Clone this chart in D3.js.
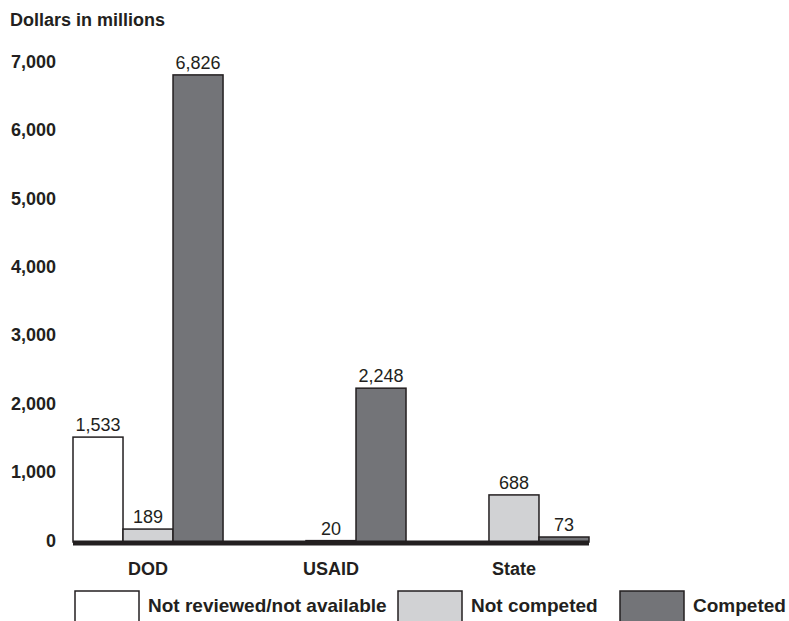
<!DOCTYPE html>
<html>
<head>
<meta charset="utf-8">
<script src="https://cdn.jsdelivr.net/npm/d3@7"></script>
<style>
  body { margin: 0; background: #fff; }
  svg { display: block; font-family: "Liberation Sans", Arial, sans-serif; }
</style>
</head>
<body>
<svg id="graph"></svg>
<script>
var width = 789, height = 621;

var agencies = ["DOD", "USAID", "State"];
var seriesNames = ["Not reviewed/not available", "Not competed", "Competed"];
var notReviewed = [1533, 0, 0];
var notCompeted = [189, 20, 688];
var competed = [6826, 2248, 73];
var yTicks = [0, 1000, 2000, 3000, 4000, 5000, 6000, 7000];

var color = ["#ffffff", "#d1d2d4", "#737478"];
var ink = "#231f20";

var svg = d3.select("#graph")
	.attr("width", width)
	.attr("height", height);

var x = d3.scaleBand()
	.domain(agencies)
	.range([73, 589])
	.paddingInner(0.18);

var xs = d3.scaleBand()
	.domain(d3.range(3))
	.range([0, x.bandwidth()]);

var y = d3.scaleLinear()
	.domain([0, 7000])
	.range([542, 63]);

// build rows for bars
var rows = [];
agencies.forEach(function (a, i) {
	[notReviewed[i], notCompeted[i], competed[i]].forEach(function (v, j) {
		rows.push({ agency: a, s: j, value: v });
	});
});

svg.append("text")
	.attr("x", 10)
	.attr("y", 26)
	.attr("font-size", "18px")
	.attr("font-weight", "bold")
	.attr("fill", ink)
	.text("Dollars in millions");

// y axis labels (no line)
svg.selectAll(".ytick")
	.data(yTicks)
	.enter()
	.append("text")
	.attr("class", "ytick")
	.attr("x", 56)
	.attr("y", d => y(d))
	.attr("dominant-baseline", "middle")
	.attr("text-anchor", "end")
	.attr("font-size", "18px")
	.attr("font-weight", "bold")
	.attr("fill", ink)
	.text(d => d3.format(",")(d));

svg.selectAll(".bar")
	.data(rows.filter(d => d.value > 0))
	.enter()
	.append("rect")
	.attr("class", "bar")
	.attr("x", d => x(d.agency) + xs(d.s))
	.attr("y", d => y(d.value))
	.attr("width", xs.bandwidth())
	.attr("height", d => y(0) - y(d.value))
	.attr("fill", d => color[d.s])
	.attr("stroke", ink)
	.attr("stroke-width", 1.5);

svg.selectAll(".val")
	.data(rows.filter(d => d.value > 0))
	.enter()
	.append("text")
	.attr("class", "val")
	.attr("x", d => x(d.agency) + xs(d.s) + xs.bandwidth() / 2)
	.attr("y", d => y(d.value) - 6)
	.attr("text-anchor", "middle")
	.attr("font-size", "18px")
	.attr("fill", ink)
	.text(d => d3.format(",")(d.value));

// thick baseline
svg.append("line")
	.attr("x1", x.range()[0])
	.attr("x2", x.range()[1])
	.attr("y1", y(0) + 1)
	.attr("y2", y(0) + 1)
	.attr("stroke", ink)
	.attr("stroke-width", 5);

svg.selectAll(".cat")
	.data(agencies)
	.enter()
	.append("text")
	.attr("class", "cat")
	.attr("x", d => x(d) + x.bandwidth() / 2)
	.attr("y", 575)
	.attr("text-anchor", "middle")
	.attr("font-size", "18px")
	.attr("font-weight", "bold")
	.attr("fill", ink)
	.text(d => d);

// legend
var legX = [75, 398, 620];
var leg = svg.selectAll(".leg")
	.data(seriesNames)
	.enter()
	.append("g")
	.attr("class", "leg")
	.attr("transform", (d, i) => "translate(" + legX[i] + ",591)");

leg.append("rect")
	.attr("width", 64)
	.attr("height", 34)
	.attr("fill", (d, i) => color[i])
	.attr("stroke", ink)
	.attr("stroke-width", 1.5);

leg.append("text")
	.attr("x", 73)
	.attr("y", 21)
	.attr("font-size", "19px")
	.attr("font-weight", "bold")
	.attr("fill", ink)
	.text(d => d);
</script>
</body>
</html>
